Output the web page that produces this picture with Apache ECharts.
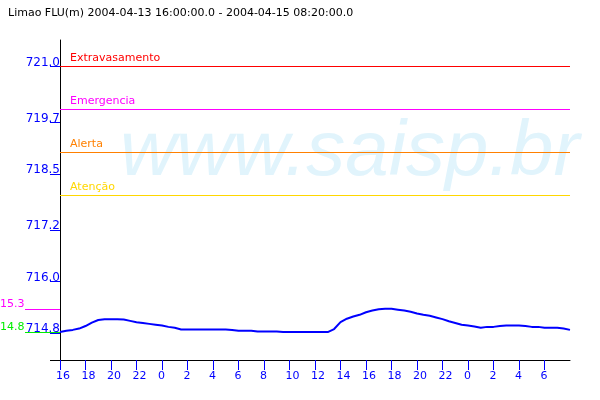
<!DOCTYPE html>
<html>
<head>
<meta charset="utf-8">
<script src="https://cdn.jsdelivr.net/npm/echarts@6/dist/echarts.min.js"></script>
<style>
html,body{margin:0;padding:0;background:#fff;}
#chart{width:600px;height:400px;}
</style>
</head>
<body>
<div id="chart"></div>
<script>
// ---- data ----
const titleText = 'Limao FLU(m) 2004-04-13 16:00:00.0 - 2004-04-15 08:20:00.0';
const startHour = 16;          // first reading at 16:00
const stepHours = 0.5;         // reading every 30 min
const levels = [
  714.83, 714.86, 714.88, 714.91, 714.97, 715.05, 715.11, 715.13, 715.13, 715.13,
  715.12, 715.09, 715.06, 715.04, 715.02, 715.00, 714.98, 714.95, 714.93, 714.89,
  714.89, 714.89, 714.89, 714.89, 714.89, 714.89, 714.89, 714.88, 714.86, 714.86,
  714.86, 714.84, 714.84, 714.84, 714.84, 714.83, 714.83, 714.83, 714.83, 714.83,
  714.83, 714.83, 714.83, 714.90, 715.06, 715.14, 715.19, 715.23, 715.29, 715.33,
  715.36, 715.37, 715.37, 715.35, 715.33, 715.30, 715.26, 715.23, 715.21, 715.17,
  715.13, 715.08, 715.04, 715.00, 714.98, 714.96, 714.93, 714.95, 714.95, 714.97,
  714.98, 714.98, 714.98, 714.97, 714.95, 714.95, 714.93, 714.93, 714.93, 714.91,
  714.88
];
const yTickValues = [714.8, 716.0, 717.2, 718.5, 719.7, 721.0];
const yMin = 714.18, yMax = 721.62;
const thresholdNames = ['Extravasamento', 'Emergencia', 'Alerta', 'Atenção'];
const thresholdValues = [721.0, 720.0, 719.0, 718.0];
const thresholdColors = ['#ff0000', '#ff00ff', '#ff8000', '#ffd700'];
const watermark = 'www.saisp.br';

// ---- build ----
const seriesData = levels.map((v, i) => [i * stepHours, v]);
const maxVal = Math.max(...levels);
const minVal = Math.min(...levels);

const chart = echarts.init(document.getElementById('chart'), null, {renderer: 'canvas'});
const option = {
  animation: false,
  backgroundColor: '#ffffff',
  title: {
    text: titleText, left: 3, top: 3,
    textStyle: {fontFamily: 'DejaVu Sans', fontSize: 11, fontWeight: 'normal', color: '#000'}
  },
  grid: {left: 60, right: 30, top: 40, bottom: 40},
  xAxis: {
    type: 'value', min: 0, max: (levels.length - 1) * stepHours, interval: 2,
    splitLine: {show: false},
    axisLine: {lineStyle: {color: '#000', width: 1}},
    axisTick: {show: true, length: 10, lineStyle: {color: '#0000ff'}},
    axisLabel: {
      color: '#0000ff', fontFamily: 'DejaVu Sans', fontSize: 11, margin: 11,
      align: 'left', padding: [0, 0, 0, -4],
      showMaxLabel: false,
      formatter: v => String((startHour + Math.round(v)) % 24)
    }
  },
  yAxis: {
    type: 'value', min: yMin, max: yMax,
    splitLine: {show: false},
    axisLine: {show: true, lineStyle: {color: '#000', width: 1}},
    axisTick: {show: true, length: 10, customValues: yTickValues, lineStyle: {color: '#0000ff'}},
    axisLabel: {
      customValues: yTickValues, color: '#0000ff', fontFamily: 'DejaVu Sans', fontSize: 12,
      margin: 0, verticalAlign: 'bottom', padding: [0, 0, -2, 0],
      formatter: v => v.toFixed(1)
    }
  },
  series: [{
    type: 'line', data: seriesData, showSymbol: false, symbol: 'none',
    lineStyle: {color: '#0000ff', width: 2}, z: 5,
    markLine: {
      silent: true, symbol: 'none',
      data: thresholdNames.map((n, i) => ({
        name: n, yAxis: thresholdValues[i],
        lineStyle: {color: thresholdColors[i], width: 1, type: 'solid'},
        label: {color: thresholdColors[i]}
      })),
      label: {
        show: true, position: 'insideStartTop', formatter: '{b}',
        fontFamily: 'DejaVu Sans', fontSize: 11, distance: [10, 3]
      }
    }
  }]
};
chart.setOption(option);

// left markers for max / min reading and watermark
const yMaxPx = chart.convertToPixel({yAxisIndex: 0}, maxVal);
const yMinPx = chart.convertToPixel({yAxisIndex: 0}, minVal);
const trunc = v => (Math.floor(v * 10) / 10 - 700).toFixed(1);
chart.setOption({
  graphic: [
    {type: 'text', left: 120, top: 114, z: -10, silent: true,
     style: {text: watermark, font: 'italic 78px "Liberation Sans"', fill: '#e1f4fc'}},
    {type: 'line', shape: {x1: 50, y1: 360.5, x2: 60, y2: 360.5}, style: {stroke: '#000', lineWidth: 1}},
    {type: 'line', shape: {x1: 25, y1: Math.round(yMaxPx) + 0.5, x2: 60, y2: Math.round(yMaxPx) + 0.5},
     style: {stroke: '#ff00ff', lineWidth: 1}},
    {type: 'text', x: 0, y: yMaxPx + 1, style: {text: trunc(maxVal), font: '11px "DejaVu Sans"', fill: '#ff00ff', verticalAlign: 'bottom'}},
    {type: 'line', shape: {x1: 25, y1: Math.round(yMinPx) + 0.5, x2: 60, y2: Math.round(yMinPx) + 0.5},
     style: {stroke: '#00ee00', lineWidth: 1}},
    {type: 'text', x: 0, y: yMinPx + 1, style: {text: trunc(minVal), font: '11px "DejaVu Sans"', fill: '#00ee00', verticalAlign: 'bottom'}}
  ]
});
</script>
</body>
</html>
